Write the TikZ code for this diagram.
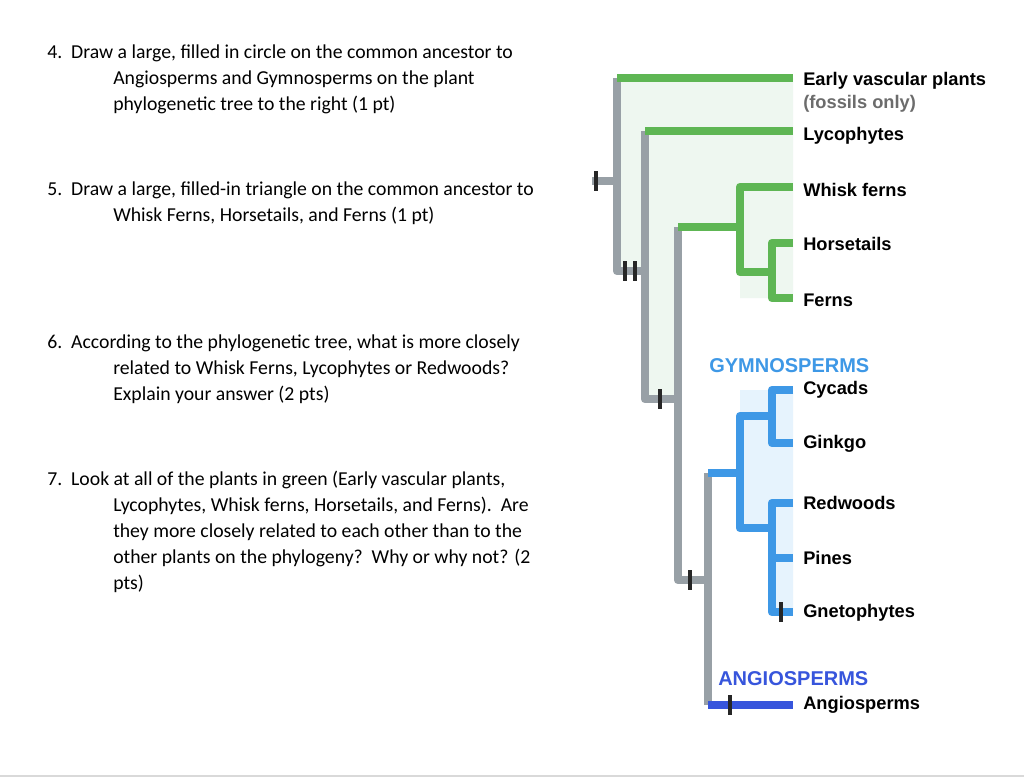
\documentclass[tikz,border=0pt]{standalone}
\usepackage{fontspec}
\setmainfont{Carlito}
\newfontfamily\lab{Liberation Sans}
\begin{document}
\begin{tikzpicture}[x=0.75pt,y=-0.75pt,
 gr/.style={line width=6.6pt,color=treegray,line join=round},
 gn/.style={line width=6.6pt,color=treegreen,line join=round},
 bl/.style={line width=6.6pt,color=treeblue,line join=round},
 tk/.style={line width=2.6pt,color=black!85},
 q/.style={anchor=west,font=\fontsize{14.8}{17}\selectfont,inner sep=0},
 lb/.style={anchor=west,font=\lab\bfseries\fontsize{13.7}{15}\selectfont,inner sep=0},
 gp/.style={anchor=west,inner sep=0,font=\lab\bfseries\fontsize{15}{17}\selectfont}]
\definecolor{treegray}{RGB}{152,160,166}
\definecolor{treegreen}{RGB}{94,182,84}
\definecolor{treeblue}{RGB}{62,152,230}
\definecolor{angblue}{RGB}{55,85,220}
\definecolor{fillg}{RGB}{238,247,240}
\definecolor{fillb}{RGB}{230,243,253}
\useasboundingbox (0,0) rectangle (1024,783);
\fill[white] (0,0) rectangle (1024,783);
\draw[gray!30,line width=0.8pt] (0,776) -- (1024,776);
% fills
\fill[fillg] (617,78)--(793,78)--(793,298)--(740,298)--(740,227)--(678,227)--(678,399)--(645,399)--(645,271)--(617,271)--cycle;
\fill[fillb] (740,390)--(793,390)--(793,612)--(772,612)--(772,528)--(740,528)--cycle;
% questions
\node[q] at (47,53) {4.\ \ Draw a large, filled in circle on the common ancestor to};
\node[q] at (113,79) {Angiosperms and Gymnosperms on the plant};
\node[q] at (113,105) {phylogenetic tree to the right (1 pt)};
\node[q] at (47,190) {5.\ \ Draw a large, filled-in triangle on the common ancestor to};
\node[q] at (113,216) {Whisk Ferns, Horsetails, and Ferns (1 pt)};
\node[q] at (47,343) {6.\ \ According to the phylogenetic tree, what is more closely};
\node[q] at (113,369) {related to Whisk Ferns, Lycophytes or Redwoods?};
\node[q] at (113,395) {Explain your answer (2 pts)};
\node[q] at (47,480) {7.\ \ Look at all of the plants in green (Early vascular plants,};
\node[q] at (113,506) {Lycophytes, Whisk ferns, Horsetails, and Ferns).\ \ Are};
\node[q] at (113,532) {they more closely related to each other than to the};
\node[q] at (113,558) {other plants on the phylogeny?\ \ Why or why not? (2};
\node[q] at (113,584) {pts)};
% gray backbone
\draw[gr] (592,181)--(617,181);
\draw[gr] (617,78)--(617,271)--(645,271);
\draw[gr] (645,131)--(645,399)--(678,399);
\draw[gr] (678,227)--(678,580)--(708,580);
\draw[gr] (708,473)--(708,705);
% green
\draw[gn] (617,78)--(793,78);
\draw[gn] (645,131)--(793,131);
\draw[gn] (678,227)--(740,227);
\draw[gn] (793,187)--(740,187)--(740,272)--(772,272);
\draw[gn] (793,243)--(772,243)--(772,298)--(793,298);
% blue
\draw[bl] (708,473)--(740,473);
\draw[bl] (772,416)--(740,416)--(740,528)--(772,528);
\draw[bl] (793,390)--(772,390)--(772,443)--(793,443);
\draw[bl] (793,503)--(772,503)--(772,612)--(793,612);
\draw[bl] (772,558)--(793,558);
\draw[line width=6.6pt,color=angblue] (708,705)--(793,705);
% ticks
\foreach \x/\y in {596/181,625/271,635/271,660/399,690/580,781/612,730/705}
  \draw[tk] (\x,\y-10)--(\x,\y+10);
% labels
\node[lb] at (803,81) {Early vascular plants};
\node[lb,text=gray!85!black] at (803,104) {(fossils only)};
\node[lb] at (803,136) {Lycophytes};
\node[lb] at (803,190) {Whisk ferns};
\node[lb] at (803,244) {Horsetails};
\node[lb] at (803,300) {Ferns};
\node[gp,text=treeblue] at (709,366) {GYMNOSPERMS};
\node[lb] at (803,390) {Cycads};
\node[lb] at (803,444) {Ginkgo};
\node[lb] at (803,503) {Redwoods};
\node[lb] at (803,558) {Pines};
\node[lb] at (803,613) {Gnetophytes};
\node[gp,text=angblue] at (718,679) {ANGIOSPERMS};
\node[lb] at (803,705) {Angiosperms};
\end{tikzpicture}
\end{document}
